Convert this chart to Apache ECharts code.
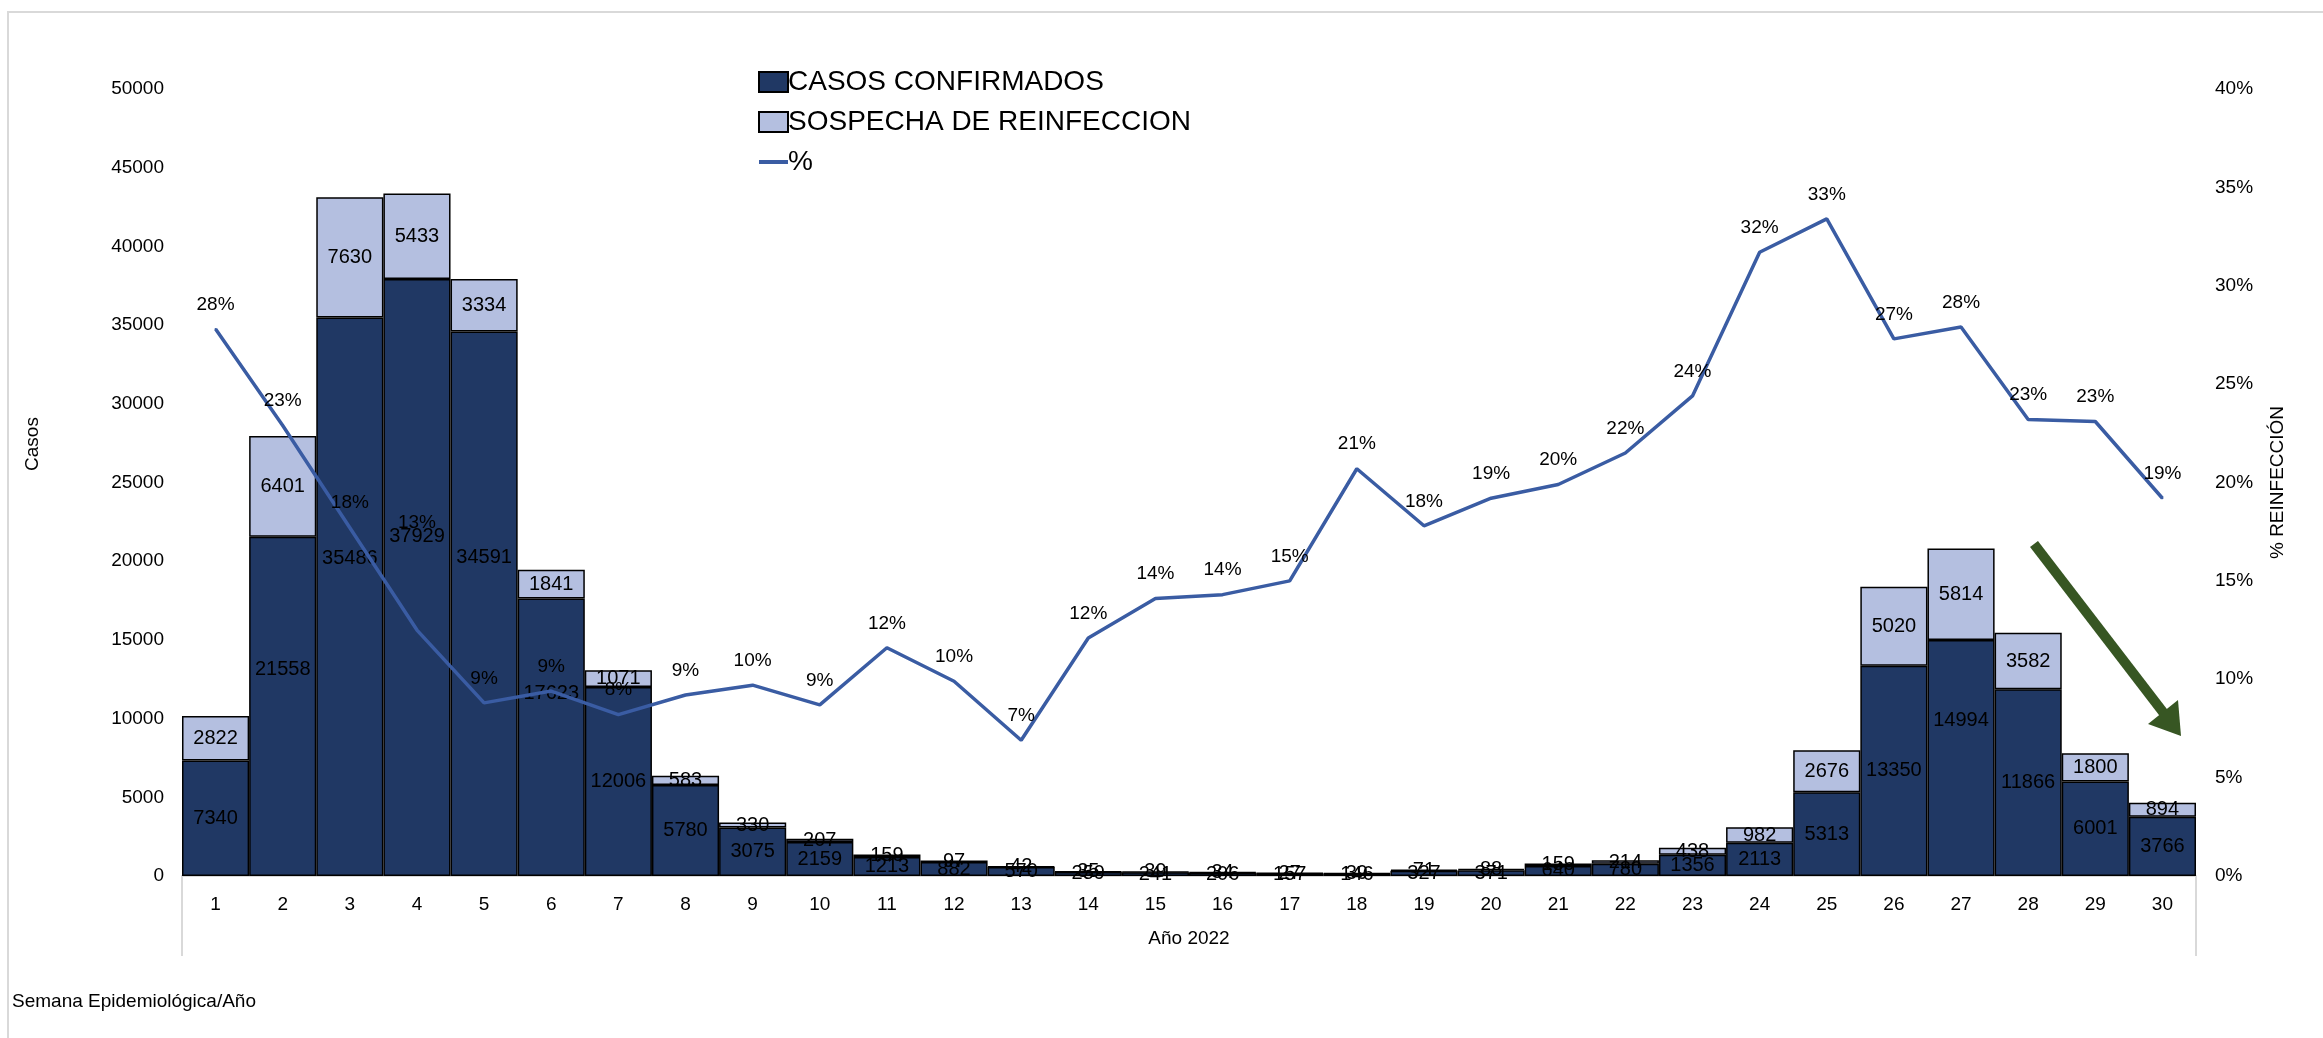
<!DOCTYPE html>
<html>
<head>
<meta charset="utf-8">
<script src="https://cdn.jsdelivr.net/npm/echarts@6/dist/echarts.min.js"></script>
<style>html,body{margin:0;padding:0;background:#fff;}#c{width:2323px;height:1038px;}</style>
</head>
<body>
<div id="c"></div>
<script>
var weeks = ['1','2','3','4','5','6','7','8','9','10','11','12','13','14','15','16','17','18','19','20','21','22','23','24','25','26','27','28','29','30'];
var confirmados = [7340,21558,35486,37929,34591,17623,12006,5780,3075,2159,1213,882,570,259,241,206,157,146,327,371,640,780,1356,2113,5313,13350,14994,11866,6001,3766];
var reinfeccion = [2822,6401,7630,5433,3334,1841,1071,583,330,207,159,97,42,35,39,34,27,39,71,88,159,214,438,982,2676,5020,5814,3582,1800,894];
var porcentaje = [27.8,22.9,17.7,12.5,8.8,9.4,8.2,9.2,9.7,8.7,11.6,9.9,6.9,12.1,14.1,14.3,15.0,20.7,17.8,19.2,19.9,21.5,24.4,31.7,33.4,27.3,27.9,23.2,23.1,19.2];
var yearLabel = ['Año 2022'];

// manual label nudges seen in the reference (pixels, by week index)
var confLabelShift = {1: -37, 2: -38, 3: -41, 4: -46, 5: -44, 26: -38};
var pctLabelDistance = {3: 97};

var FONT = 'Liberation Sans, Arial, sans-serif';
var LINE_COLOR = '#3a5ca3';

function withShift(arr, shifts) {
  return arr.map(function (v, i) {
    return shifts[i] !== undefined ? {value: v, label: {offset: [0, shifts[i]]}} : v;
  });
}
function withDistance(arr, dists) {
  return arr.map(function (v, i) {
    return dists[i] !== undefined ? {value: v, label: {show: true, position: 'top', distance: dists[i]}} : v;
  });
}

var chart = echarts.init(document.getElementById('c'));
chart.setOption({
  animation: false,
  textStyle: {fontFamily: FONT, color: '#000'},
  legend: {
    orient: 'vertical', left: 753, top: 63, itemWidth: 29, itemHeight: 20, itemGap: 12,
    textStyle: {fontSize: 28, fontFamily: FONT, color: '#000', padding: [0,0,0,-5]},
    data: [
      {name: 'CASOS CONFIRMADOS', icon: 'rect'},
      {name: 'SOSPECHA DE REINFECCION', icon: 'rect'},
      {name: '%', icon: 'path://M0,8 L29,8 L29,12 L0,12 Z', itemStyle: {color: LINE_COLOR, borderWidth: 0, opacity: 1}}
    ]
  },
  grid: {left: 182, right: 127, top: 89, bottom: 162},
  xAxis: [
    {type: 'category', data: weeks, position: 'bottom',
     axisLine: {show: true, lineStyle: {color: '#d9d9d9', width: 2}},
     axisTick: {show: false},
     axisLabel: {fontSize: 19, color: '#000', margin: 19, fontFamily: FONT}},
    {type: 'category', data: yearLabel, position: 'bottom', offset: 0,
     axisLine: {show: false},
     axisTick: {show: true, length: 80, lineStyle: {color: '#d9d9d9', width: 2}},
     axisLabel: {fontSize: 19, color: '#000', margin: 53, fontFamily: FONT}}
  ],
  yAxis: [
    {type: 'value', min: 0, max: 50000, interval: 5000,
     axisLine: {show: false}, axisTick: {show: false}, splitLine: {show: false},
     axisLabel: {fontSize: 19, color: '#000', margin: 18, fontFamily: FONT, formatter: function (v) { return String(v); }}},
    {type: 'value', min: 0, max: 40, interval: 5,
     name: '% REINFECCIÓN', nameLocation: 'middle', nameGap: 72, nameRotate: 90,
     nameTextStyle: {fontSize: 19, color: '#000', fontFamily: FONT},
     axisLine: {show: false}, axisTick: {show: false}, splitLine: {show: false},
     axisLabel: {fontSize: 19, color: '#000', margin: 19, formatter: '{value}%', fontFamily: FONT}}
  ],
  series: [
    {name: 'CASOS CONFIRMADOS', type: 'bar', stack: 'casos', data: withShift(confirmados, confLabelShift),
     barCategoryGap: '0%', barGap: '0%',
     itemStyle: {color: '#203864', borderColor: '#000', borderWidth: 1.5},
     label: {show: true, position: 'inside', fontSize: 20, color: '#000', fontFamily: FONT}},
    {name: 'SOSPECHA DE REINFECCION', type: 'bar', stack: 'casos', data: reinfeccion,
     barCategoryGap: '0%', barGap: '0%',
     itemStyle: {color: '#b4bfe0', borderColor: '#000', borderWidth: 1.5},
     label: {show: true, position: 'inside', fontSize: 20, color: '#000', fontFamily: FONT}},
    {name: '%', type: 'line', yAxisIndex: 1, data: withDistance(porcentaje, pctLabelDistance), symbol: 'circle', symbolSize: 2, showSymbol: true, showAllSymbol: true, z: 5,
     lineStyle: {color: LINE_COLOR, width: 3.5}, itemStyle: {color: LINE_COLOR},
     labelLayout: {hideOverlap: false},
     label: {show: true, position: 'top', distance: 14, fontSize: 19, color: '#000', fontFamily: FONT,
       formatter: function (p) { return Math.round(p.value) + '%'; }}}
  ],
  graphic: [
    {type: 'rect', silent: true, z: -10, shape: {x: 8, y: 12, width: 2400, height: 1100},
     style: {fill: 'none', stroke: '#d9d9d9', lineWidth: 2}},
    {type: 'text', x: 33, y: 444, rotation: Math.PI / 2,
     style: {text: 'Casos', fontSize: 19, fill: '#000', fontFamily: FONT, align: 'center', verticalAlign: 'middle'}},
    {type: 'text', left: 12, top: 992, style: {text: 'Semana Epidemiológica/Año', fontSize: 19, fill: '#000', fontFamily: FONT}},
    {type: 'line', shape: {x1: 2034, y1: 544, x2: 2166, y2: 716}, style: {stroke: '#375623', lineWidth: 10}, z: 20},
    {type: 'polygon', shape: {points: [[2181, 736], [2148, 724], [2178, 700]]}, style: {fill: '#375623'}, z: 20}
  ]
});
</script>
</body>
</html>
